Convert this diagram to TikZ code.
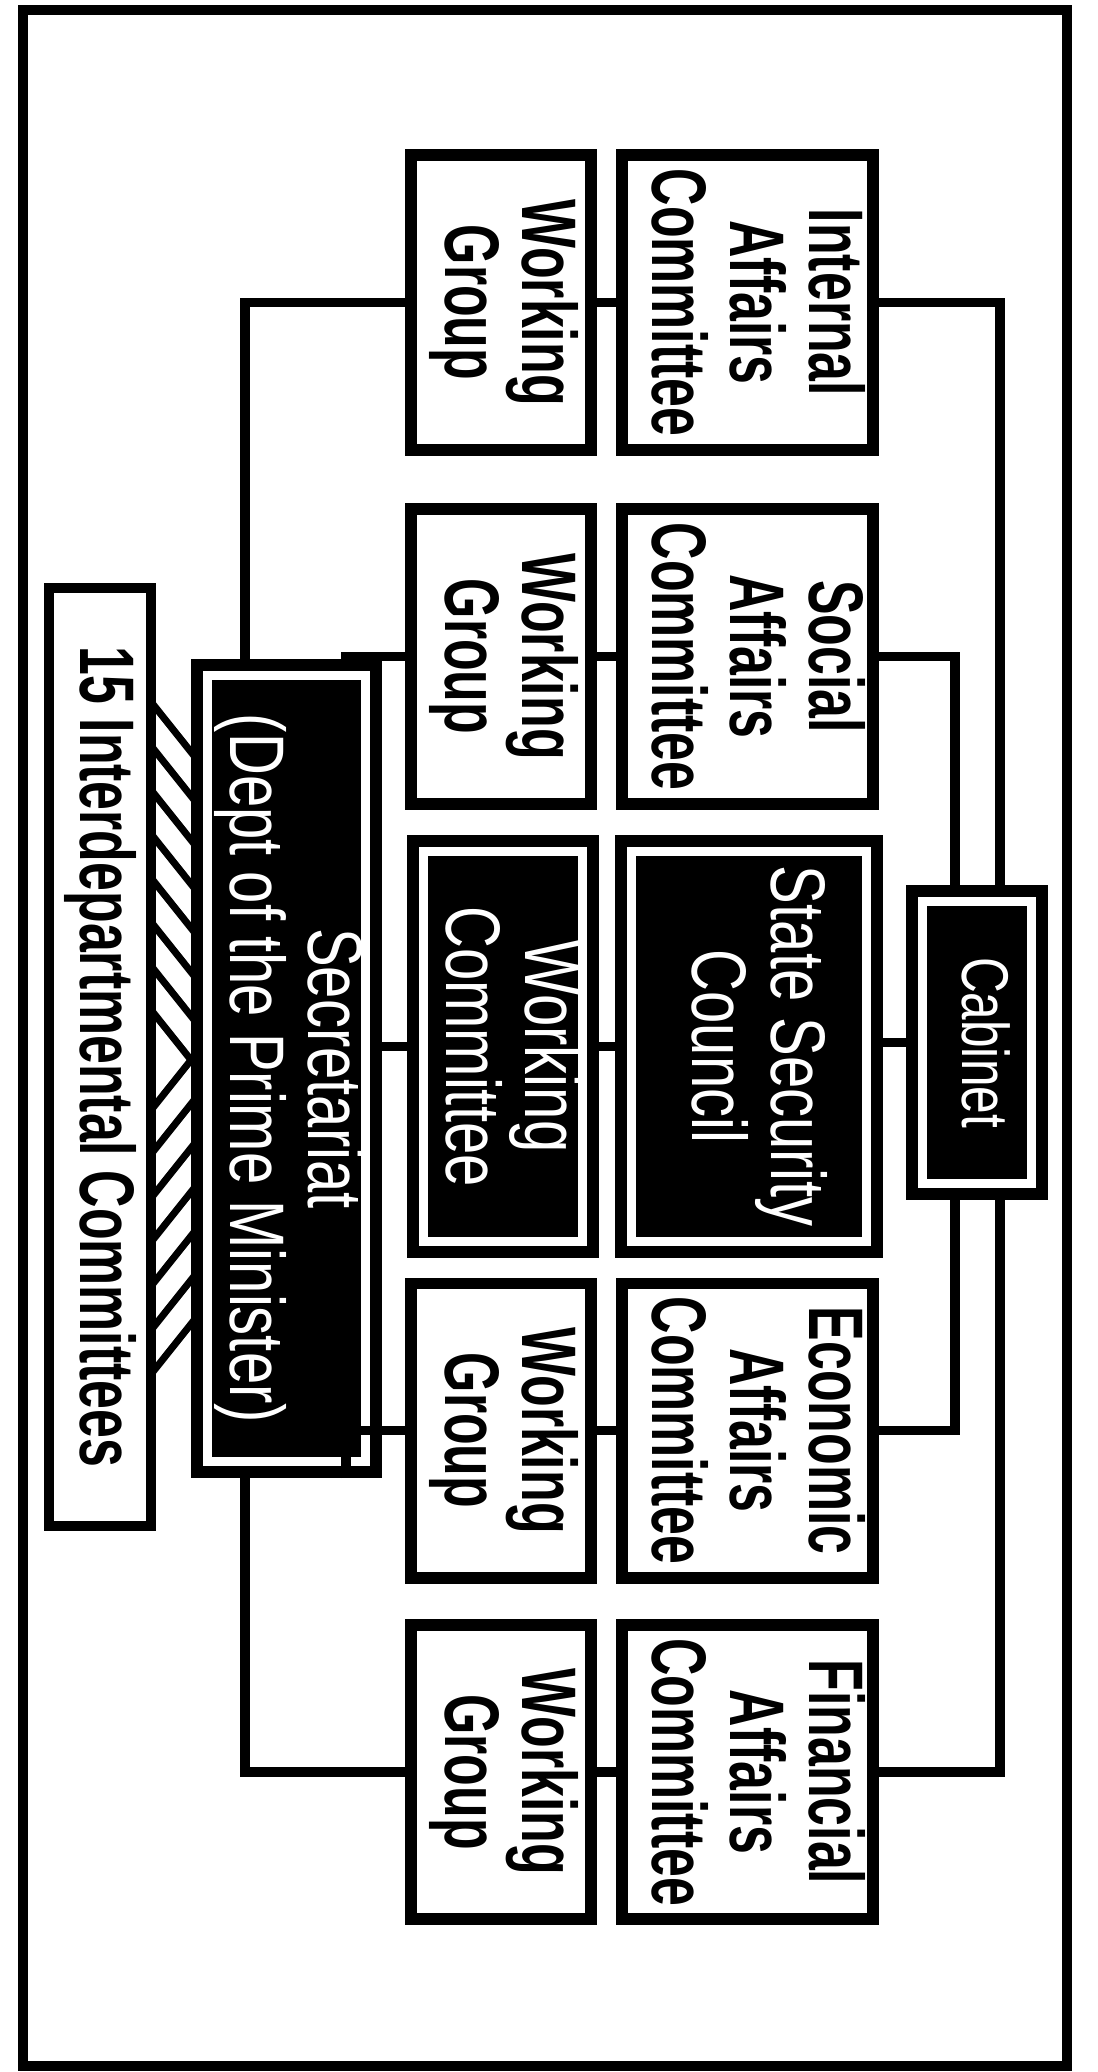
\documentclass[tikz,border=0pt]{standalone}
\usepackage{fontspec}
\usepackage{graphicx}
\setmainfont{Liberation Sans}
\newfontfamily\chartfont{Liberation Sans}[FakeStretch=0.67]
\newfontfamily\darkfont{Liberation Sans}[FakeStretch=0.75]
\newcommand{\vlines}[1]{\rotatebox{-90}{\begin{tabular}{@{}c@{}}#1\end{tabular}}}

\begin{document}
\begin{tikzpicture}[x=0.025cm, y=-0.025cm,
  box/.style={draw, line width=8.5pt, inner sep=0pt, outer sep=4.27pt,
    font=\chartfont\bfseries\fontsize{55}{53}\selectfont},
  committee/.style={box, minimum width=6.275cm, minimum height=7.35cm},
  group/.style={box, minimum width=4.5cm, minimum height=7.35cm},
  darkbox/.style={draw, fill=black, line width=8.5pt, double=white, double distance=6.4pt,
    inner sep=0pt, outer sep=11.7pt, text=white, font=\darkfont\fontsize{55}{53}\selectfont},
  link/.style={line width=7pt},
  hatch/.style={line width=5pt}]
  \useasboundingbox (0,0) rectangle (1098,2072);
  \draw[line width=7.1pt] (23,10) rectangle (1067,2066);

  \node[committee] (intaff) at (747.5,302.5) {\vlines{Internal\\Affairs\\Committee}};
  \node[group] (wgint) at (501,302.5) {\vlines{Working\\Group}};
  \node[committee] (socaff) at (747.5,656.5) {\vlines{Social\\Affairs\\Committee}};
  \node[group] (wgsoc) at (501,656.5) {\vlines{Working\\Group}};
  \node[darkbox, minimum width=5.875cm, minimum height=9.75cm] (secco) at (749,1046.5) {\vlines{State Security\\Council}};
  \node[darkbox, minimum width=3.975cm, minimum height=9.75cm] (workcom) at (503,1046.5) {\vlines{Working\\Committee}};
  \node[darkbox, minimum width=2.725cm, minimum height=7.05cm, font=\darkfont\fontsize{47}{47}\selectfont] (cabinet) at (977,1042.5) {\vlines{Cabinet}};
  \node[committee] (ecoaff) at (747.5,1430.5) {\vlines{Economic\\Affairs\\Committee}};
  \node[group] (wgeco) at (501,1430.5) {\vlines{Working\\Group}};
  \node[committee] (finaff) at (747.5,1772) {\vlines{Financial\\Affairs\\Committee}};
  \node[group] (wgfin) at (501,1772) {\vlines{Working\\Group}};
  \node[darkbox, minimum width=3.95cm, minimum height=19.65cm] (secretariat) at (286.5,1068.5) {\vlines{Secretariat\\(Dept of the Prime Minister)}};
  \node[box, line width=7.1pt, outer sep=3.56pt, minimum width=2.55cm, minimum height=23.45cm] (interdep) at (100,1057) {\rotatebox{-90}{15 Interdepartmental Committees}};

  \coordinate (trunkA) at (955,0);
  \coordinate (trunkB) at (1000,0);
  \coordinate (feedA) at (245,0);
  \coordinate (feedB) at (346,0);

  \draw[link] (socaff.east) -| (cabinet.north -| trunkA);
  \draw[link] (intaff.east) -| (cabinet.north -| trunkB);
  \draw[link] (cabinet.south -| trunkA) |- (ecoaff.east);
  \draw[link] (cabinet.south -| trunkB) |- (finaff.east);
  \draw[link] (cabinet.west) -- (cabinet.west -| secco.east);
  \draw[link] (secco.west) -- (secco.west -| workcom.east);
  \draw[link] (workcom.west) -- (workcom.west -| secretariat.east);
  \draw[link] (wgint.east) -- (intaff.west);
  \draw[link] (wgsoc.east) -- (socaff.west);
  \draw[link] (wgeco.east) -- (ecoaff.west);
  \draw[link] (wgfin.east) -- (finaff.west);
  \draw[link] (wgint.west) -| (secretariat.north -| feedA);
  \draw[link] (wgsoc.west) -| (secretariat.north -| feedB);
  \draw[link] (secretariat.south -| feedB) |- (wgeco.west);
  \draw[link] (secretariat.south -| feedA) |- (wgfin.west);

  \begin{scope}
    \clip (156,700) rectangle (191,1390);
    \foreach \y in {708,752,...,1016}
      \draw[hatch] (148,{\y-10}) -- (199,{\y+54});
    \foreach \y in {1104,1148,...,1368}
      \draw[hatch] (148,{\y+10}) -- (199,{\y-54});
  \end{scope}
\end{tikzpicture}
\end{document}
